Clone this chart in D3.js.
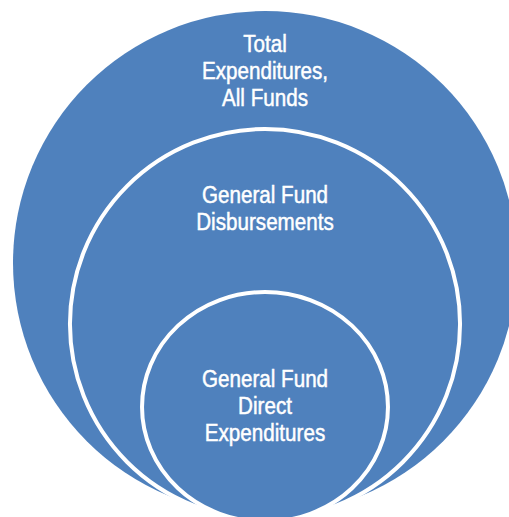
<!DOCTYPE html>
<html>
<head>
<meta charset="utf-8">
<script src="https://cdn.jsdelivr.net/npm/d3@7"></script>
<style>
  body { margin: 0; background: #fff; }
  svg { display: block; }
</style>
</head>
<body>
<svg id="chart" width="509" height="517"></svg>
<script>
// nested levels, outermost first
const levels = ["total", "general", "direct"];
const labels = [
  ["Total", "Expenditures,", "All Funds"],
  ["General Fund", "Disbursements"],
  ["General Fund", "Direct", "Expenditures"]
];
// relative width / height of each shape (outer = 1)
const widths = [1, 0.774, 0.488];
const heights = [1, 0.774, 0.456];

const svg = d3.select("#chart");
const cx = 265;

var rScale = d3.scaleLinear().domain([0, 1]).range([0, 252]);
// top edge of each shape
var tops = [11, 129, 292];
// first text baseline inside each shape
var textTop = [52, 203, 387];
var lineH = 27;

const g = svg.append("g");

g.selectAll("ellipse")
  .data(levels)
  .join("ellipse")
    .attr("cx", cx)
    .attr("cy", (d, i) => tops[i] + rScale(heights[i]))
    .attr("rx", (d, i) => rScale(widths[i]))
    .attr("ry", (d, i) => rScale(heights[i]))
    .attr("fill", "#4f81bd")
    .attr("stroke", (d, i) => i == 0 ? "none" : "#fff")
    .attr("stroke-width", 4);

// the labels use a narrow face, so squeeze a regular one
var txt = g.append("g")
  .attr("transform", `translate(${cx},0) scale(0.86,1)`);

txt.selectAll("text.lbl")
  .data(levels)
  .join("text")
    .attr("class", "lbl")
    .attr("text-anchor", "middle")
    .attr("fill", "#fff")
    .attr("stroke", "#fff")
    .attr("stroke-width", 0.5)
    .style("font-family", "'Liberation Sans', Arial, sans-serif")
    .style("font-size", "24px")
    .each(function(d, i) {
      d3.select(this).selectAll("tspan")
        .data(labels[i])
        .join("tspan")
          .attr("x", 0)
          .attr("y", (t, j) => textTop[i] + j * lineH)
          .text(t => t);
    });
</script>
</body>
</html>
